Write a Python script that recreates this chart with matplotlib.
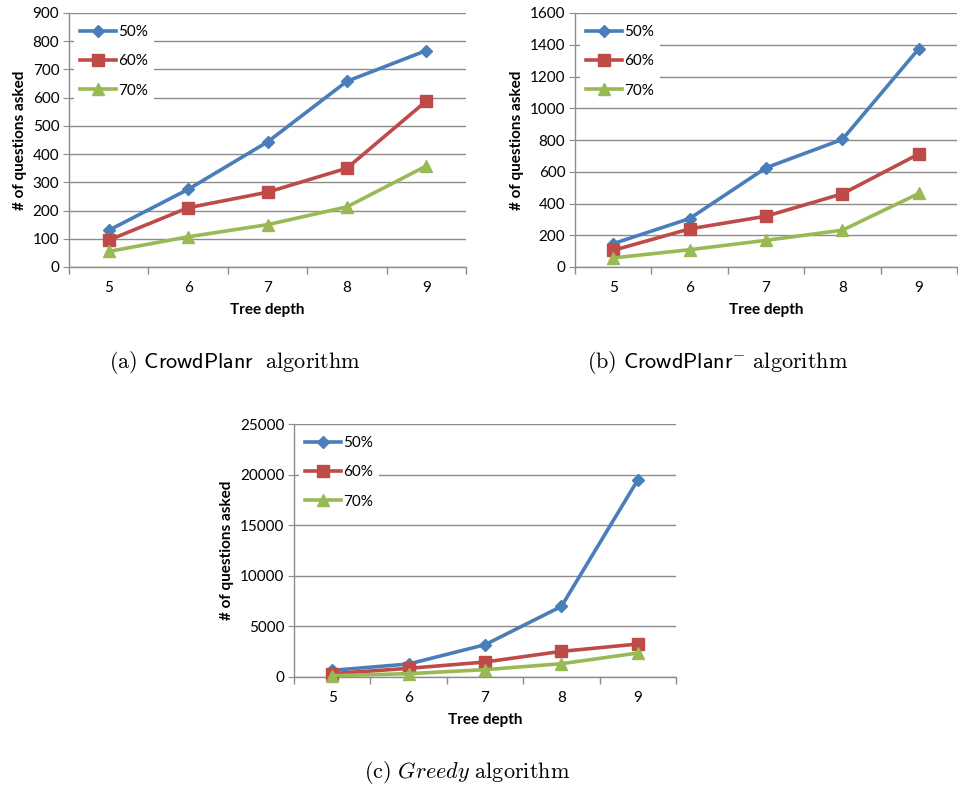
import numpy as np
import matplotlib.pyplot as plt

plt.rcParams['font.family'] = ['Lato', 'DejaVu Sans']
plt.rcParams['mathtext.fontset'] = 'cm'

# ---------------------------
# Data
# ---------------------------
depths = [5, 6, 7, 8, 9]
labels = ['50%', '60%', '70%']

crowdplanr_50 = [130, 275, 443, 658, 767]
crowdplanr_60 = [95, 210, 265, 350, 588]
crowdplanr_70 = [55, 107, 150, 213, 358]

crowdminus_50 = [147, 305, 625, 804, 1375]
crowdminus_60 = [105, 240, 320, 461, 712]
crowdminus_70 = [57, 109, 168, 232, 463]

greedy_50 = [658, 1283, 3190, 6974, 19474]
greedy_60 = [329, 855, 1480, 2533, 3257]
greedy_70 = [132, 329, 724, 1316, 2368]

# ---------------------------
# Style
# ---------------------------
colors = ['#4A7EBB', '#BE4B48', '#98B954']
markers = ['D', 's', '^']
msizes = [6.5, 8.5, 8.5]
grid_col = '#8C8C8C'

W, H = 958, 788
fig = plt.figure(figsize=(W / 100, H / 100), dpi=100)


def px_axes(x0, y0, x1, y1):
    # pixel box -> figure fractions
    return fig.add_axes([x0 / W, 1 - y1 / H, (x1 - x0) / W, (y1 - y0) / H])


def draw_panel(ax, series, ymax, ystep):
    for s, c, m, ms, lab in zip(series, colors, markers, msizes, labels):
        ax.plot(depths, s, color=c, marker=m, markersize=ms, lw=2.6,
                label=lab, zorder=3, clip_on=False)
    ax.set_xlim(4.5, 9.5)
    ax.set_ylim(0, ymax)
    ax.set_yticks(np.arange(0, ymax + 1, ystep))
    ax.set_xticks(depths)
    ax.set_xticks(np.arange(4.5, 9.6, 1), minor=True)
    ax.tick_params(axis='x', which='major', length=0, pad=10, labelsize=11)
    ax.tick_params(axis='x', which='minor', length=5, color=grid_col, width=1)
    ax.tick_params(axis='y', length=4, color=grid_col, labelsize=11, pad=3)
    ax.grid(axis='y', color=grid_col, lw=1)
    ax.set_axisbelow(True)
    for sp in ['top', 'right']:
        ax.spines[sp].set_visible(False)
    for sp in ['left', 'bottom']:
        ax.spines[sp].set_color(grid_col)
        ax.spines[sp].set_linewidth(1)
    ax.set_xlabel('Tree depth', fontweight='bold', fontsize=11, labelpad=6)
    ax.set_ylabel('# of questions asked', fontweight='bold', fontsize=11, labelpad=4)
    leg = ax.legend(loc='upper left', bbox_to_anchor=(0.0, 0.995), frameon=True,
                    facecolor='white', edgecolor='none', framealpha=1,
                    fancybox=False, handlelength=2.4, handletextpad=0.1,
                    labelspacing=1.0, fontsize=11, borderpad=0.4,
                    borderaxespad=0.3)
    leg.set_zorder(2)


ax_a = px_axes(69, 13, 466, 267)
draw_panel(ax_a, [crowdplanr_50, crowdplanr_60, crowdplanr_70], 900, 100)

ax_b = px_axes(575, 13, 957, 267)
draw_panel(ax_b, [crowdminus_50, crowdminus_60, crowdminus_70], 1600, 200)

ax_c = px_axes(294, 424, 676, 677)
draw_panel(ax_c, [greedy_50, greedy_60, greedy_70], 25000, 5000)

# captions
cap_kw = dict(ha='center', va='center', fontsize=16)
fig.text(235 / W, 1 - 362 / H,
         r'$\mathrm{(a)}\ \mathsf{CrowdPlanr}\ \ \mathrm{algorithm}$', **cap_kw)
fig.text(718 / W, 1 - 362 / H,
         r'$\mathrm{(b)}\ \mathsf{CrowdPlanr}^{-}\ \mathrm{algorithm}$', **cap_kw)
fig.text(467 / W, 1 - 773 / H,
         r'$\mathrm{(c)}\ Greedy\ \mathrm{algorithm}$', **cap_kw)

fig.savefig('out.png', dpi=100)
